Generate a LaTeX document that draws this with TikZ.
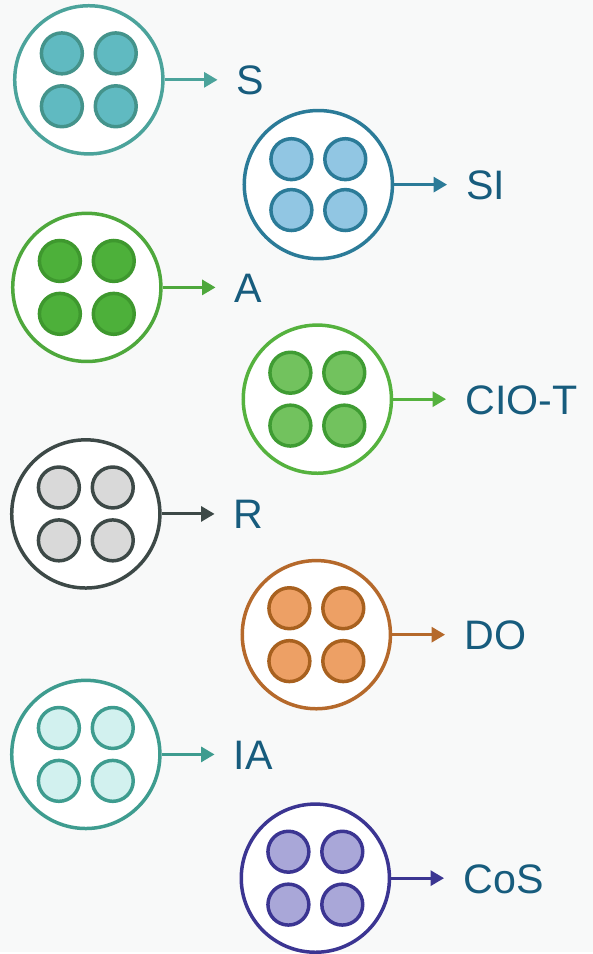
\documentclass[tikz,border=0pt]{standalone}
\usepackage{fontspec}
\setmainfont{Liberation Sans}
\usetikzlibrary{positioning,arrows.meta}

\definecolor{paper}{HTML}{F8F9F9}
\definecolor{lblblue}{HTML}{175C7D}
\definecolor{sring}{HTML}{4BA39B}
\definecolor{sfill}{HTML}{60BAC1}
\definecolor{siring}{HTML}{2B7B98}
\definecolor{sifill}{HTML}{91C6E3}
\definecolor{aring}{HTML}{4EA83C}
\definecolor{afill}{HTML}{4DB03A}
\definecolor{aline}{HTML}{3E982E}
\definecolor{ciring}{HTML}{55B23E}
\definecolor{cifill}{HTML}{72C25E}
\definecolor{ciline}{HTML}{3F9C33}
\definecolor{rring}{HTML}{3D4947}
\definecolor{rfill}{HTML}{D9D9D9}
\definecolor{doring}{HTML}{B5692B}
\definecolor{dofill}{HTML}{EDA065}
\definecolor{doline}{HTML}{A8611F}
\definecolor{iaring}{HTML}{3E9C8F}
\definecolor{iafill}{HTML}{D2F1EF}
\definecolor{cosring}{HTML}{3B3592}
\definecolor{cosfill}{HTML}{A9A7D8}

\begin{document}
\begin{tikzpicture}
	\fill [paper] (0, 0) rectangle (11.88, -19.08);
	\begin{scope}
		\tikzstyle{ring}=[circle, draw, fill=white, line width=0.07cm, minimum size=2.97cm, inner sep=0pt]
		\tikzstyle{dot}=[circle, draw, line width=0.07cm, minimum size=0.82cm, inner sep=0pt]
		\tikzstyle{lbl}=[right=1.44cm of #1, inner sep=0pt, text=lblblue, text height=0.6cm, text depth=0pt, font=\fontsize{23.5}{28}\selectfont]
		\tikzstyle{pointer}=[-{Triangle[length=0.27cm, width=0.3cm]}, line width=0.06cm, shorten >=0.38cm]

		% left column
		\node [ring, draw=sring] (s) at (1.78, -1.6) {};
		\node [dot, draw=sring!90!black, fill=sfill] (s1) at (1.24, -1.07) {};
		\node [dot, draw=sring!90!black, fill=sfill] (s2) at (2.32, -1.07) {};
		\node [dot, draw=sring!90!black, fill=sfill] (s3) at (1.24, -2.13) {};
		\node [dot, draw=sring!90!black, fill=sfill] (s4) at (2.32, -2.13) {};

		\node [ring, draw=aring] (a) at (1.74, -5.76) {};
		\node [dot, draw=aline, fill=afill] (a1) at (1.20, -5.23) {};
		\node [dot, draw=aline, fill=afill] (a2) at (2.28, -5.23) {};
		\node [dot, draw=aline, fill=afill] (a3) at (1.20, -6.29) {};
		\node [dot, draw=aline, fill=afill] (a4) at (2.28, -6.29) {};

		\node [ring, draw=rring] (r) at (1.72, -10.3) {};
		\node [dot, draw=rring, fill=rfill] (r1) at (1.18, -9.77) {};
		\node [dot, draw=rring, fill=rfill] (r2) at (2.26, -9.77) {};
		\node [dot, draw=rring, fill=rfill] (r3) at (1.18, -10.83) {};
		\node [dot, draw=rring, fill=rfill] (r4) at (2.26, -10.83) {};

		\node [ring, draw=iaring] (ia) at (1.72, -15.12) {};
		\node [dot, draw=iaring, fill=iafill] (ia1) at (1.18, -14.59) {};
		\node [dot, draw=iaring, fill=iafill] (ia2) at (2.26, -14.59) {};
		\node [dot, draw=iaring, fill=iafill] (ia3) at (1.18, -15.65) {};
		\node [dot, draw=iaring, fill=iafill] (ia4) at (2.26, -15.65) {};

		% right column
		\node [ring, draw=siring] (si) at (6.38, -3.7) {};
		\node [dot, draw=siring, fill=sifill] (si1) at (5.84, -3.19) {};
		\node [dot, draw=siring, fill=sifill] (si2) at (6.92, -3.19) {};
		\node [dot, draw=siring, fill=sifill] (si3) at (5.84, -4.21) {};
		\node [dot, draw=siring, fill=sifill] (si4) at (6.92, -4.21) {};

		\node [ring, draw=ciring] (cio) at (6.36, -8.0) {};
		\node [dot, draw=ciline, fill=cifill] (cio1) at (5.82, -7.47) {};
		\node [dot, draw=ciline, fill=cifill] (cio2) at (6.90, -7.47) {};
		\node [dot, draw=ciline, fill=cifill] (cio3) at (5.82, -8.53) {};
		\node [dot, draw=ciline, fill=cifill] (cio4) at (6.90, -8.53) {};

		\node [ring, draw=doring] (do) at (6.34, -12.72) {};
		\node [dot, draw=doline, fill=dofill] (do1) at (5.80, -12.19) {};
		\node [dot, draw=doline, fill=dofill] (do2) at (6.88, -12.19) {};
		\node [dot, draw=doline, fill=dofill] (do3) at (5.80, -13.25) {};
		\node [dot, draw=doline, fill=dofill] (do4) at (6.88, -13.25) {};

		\node [ring, draw=cosring] (cos) at (6.32, -17.6) {};
		\node [dot, draw=cosring, fill=cosfill] (cos1) at (5.78, -17.07) {};
		\node [dot, draw=cosring, fill=cosfill] (cos2) at (6.86, -17.07) {};
		\node [dot, draw=cosring, fill=cosfill] (cos3) at (5.78, -18.13) {};
		\node [dot, draw=cosring, fill=cosfill] (cos4) at (6.86, -18.13) {};

		% labels
		\node [lbl=s] (sl) {S};
		\node [lbl=si] (sil) {SI};
		\node [lbl=a] (al) {A};
		\node [lbl=cio] (ciol) {CIO-T};
		\node [lbl=r] (rl) {R};
		\node [lbl=do] (dol) {DO};
		\node [lbl=ia] (ial) {IA};
		\node [lbl=cos] (cosl) {CoS};

		\draw [pointer, draw=sring, fill=sring] (s) to (sl);
		\draw [pointer, draw=siring, fill=siring] (si) to (sil);
		\draw [pointer, draw=aring, fill=aring] (a) to (al);
		\draw [pointer, draw=ciring, fill=ciring] (cio) to (ciol);
		\draw [pointer, draw=rring, fill=rring] (r) to (rl);
		\draw [pointer, draw=doring, fill=doring] (do) to (dol);
		\draw [pointer, draw=iaring, fill=iaring] (ia) to (ial);
		\draw [pointer, draw=cosring, fill=cosring] (cos) to (cosl);
	\end{scope}
\end{tikzpicture}
\end{document}
